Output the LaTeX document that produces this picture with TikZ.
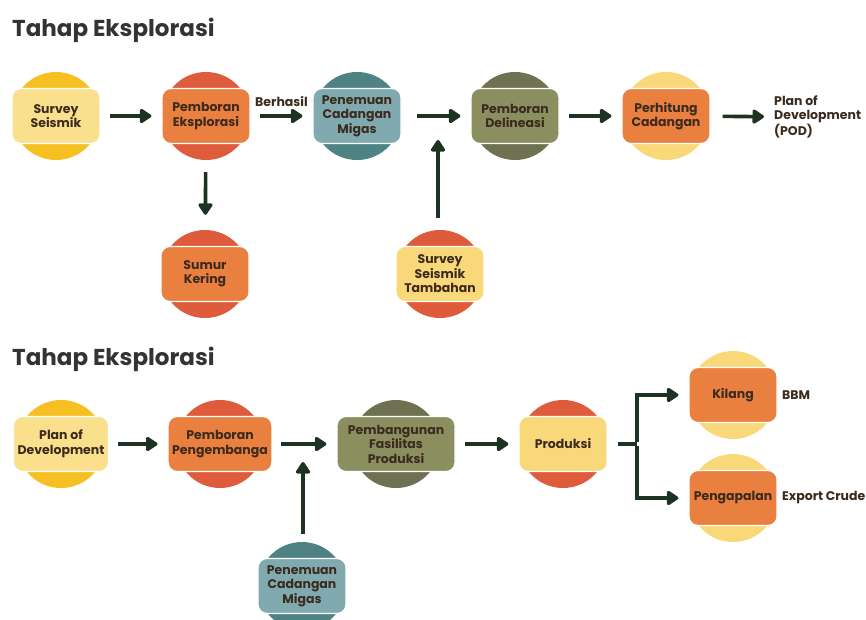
\documentclass[tikz,border=0pt]{standalone}
\usepackage{fontspec}
\setmainfont{Poppins}
\usetikzlibrary{positioning, calc, arrows.meta}

\definecolor{gold}{HTML}{F6BF22}
\definecolor{cream}{HTML}{FAE08C}
\definecolor{sand}{HTML}{F8D878}
\definecolor{brick}{HTML}{DE5B3C}
\definecolor{tangerine}{HTML}{E9803F}
\definecolor{tealdark}{HTML}{4F8383}
\definecolor{teallight}{HTML}{80AAAF}
\definecolor{olivedark}{HTML}{6F7252}
\definecolor{olivelight}{HTML}{8B8F60}
\definecolor{ink}{HTML}{3B2A1E}
\definecolor{pine}{HTML}{1D3322}
\definecolor{titlegrey}{HTML}{333333}

\begin{document}
\begin{tikzpicture}[
    x=1pt, y=-1pt,
    disc/.style={circle, minimum size=88pt, inner sep=0pt},
    stage/.style={draw=white, line width=1.2pt, rounded corners=9pt, align=center, minimum width=88pt, minimum height=55pt, inner xsep=4pt, font=\fontsize{12.5}{14.5}\selectfont\bfseries, text=ink},
    link/.style={-{Triangle[length=13pt,width=16pt,round]}, line width=3.6pt, draw=pine, shorten <=9pt, shorten >=10pt},
    note/.style={font=\fontsize{12.5}{14.5}\selectfont\bfseries, text=ink, align=left, inner sep=0pt},
    heading/.style={font=\fontsize{23}{27}\selectfont\bfseries, text=titlegrey, anchor=base west, inner sep=0pt}
]
    \useasboundingbox (0,0) rectangle (866,619);

    % judul
    \node[heading] (title1) at (12,36) {Tahap Eksplorasi};
    \node[heading] (title2) at (12,365) {Tahap Eksplorasi};

    % tahap eksplorasi: baris atas
    \node[disc, fill=gold] (survey-c) at (56,116) {};
    \node[stage, fill=cream] (survey) at (56,116) {Survey\\Seismik};
    \node[disc, fill=brick] (eksplorasi-c) at (206,116) {};
    \node[stage, fill=tangerine] (eksplorasi) at (206,116) {Pemboran\\Eksplorasi};
    \node[disc, fill=tealdark] (penemuan-c) at (357,116) {};
    \node[stage, fill=teallight] (penemuan) at (357,116) {Penemuan\\Cadangan\\Migas};
    \node[disc, fill=olivedark] (delineasi-c) at (515,116) {};
    \node[stage, fill=olivelight] (delineasi) at (515,116) {Pemboran\\Delineasi};
    \node[disc, fill=sand] (perhitung-c) at (666,116) {};
    \node[stage, fill=tangerine] (perhitung) at (666,116) {Perhitung\\Cadangan};
    \node[note, anchor=west] (pod) at (774,117) {Plan of\\Development\\(POD)};

    \node[disc, fill=brick] (sumur-c) at (205,274) {};
    \node[stage, fill=tangerine] (sumur) at (205,274) {Sumur\\Kering};
    \node[disc, fill=brick] (tambahan-c) at (440,274) {};
    \node[stage, fill=sand] (tambahan) at (440,274) {Survey\\Seismik\\Tambahan};
    \coordinate (masuk1) at (438,140);

    \draw[link] (survey) -- (eksplorasi);
    \draw[link] (eksplorasi) -- node[note, above=8pt, pos=0.5] {Berhasil} (penemuan);
    \draw[link, shorten <=15pt] (penemuan) -- (delineasi);
    \draw[link] (delineasi) -- (perhitung);
    \draw[link, shorten <=12pt] (perhitung) -- (pod);
    \draw[link, shorten <=12pt, shorten >=15pt] (eksplorasi-c) -- (sumur-c);
    \draw[link, shorten <=12pt, shorten >=0pt] (tambahan-c.north -| masuk1) -- (masuk1);

    % tahap kedua
    \node[disc, fill=gold] (plan-c) at (61,444) {};
    \node[stage, fill=cream] (plan) at (61,444) {Plan of\\Development};
    \node[disc, fill=brick] (pengembang-c) at (220,444) {};
    \node[stage, fill=tangerine] (pengembang) at (220,444) {Pemboran\\Pengembanga};
    \node[disc, fill=olivedark] (fasilitas-c) at (396,444) {};
    \node[stage, fill=olivelight, minimum width=118pt] (fasilitas) at (396,444) {Pembangunan\\Fasilitas\\Produksi};
    \node[disc, fill=brick] (produksi-c) at (563,444) {};
    \node[stage, fill=sand] (produksi) at (563,444) {Produksi};
    \node[disc, fill=sand] (kilang-c) at (733,395) {};
    \node[stage, fill=tangerine] (kilang) at (733,395) {Kilang};
    \node[disc, fill=sand] (kapal-c) at (733,498) {};
    \node[stage, fill=tangerine] (kapal) at (733,498) {Pengapalan};
    \node[note, anchor=west] (bbm) at (782,395) {BBM};
    \node[note, anchor=west] (ekspor) at (782,498) {Export Crude};

    \node[disc, fill=tealdark] (migas-c) at (302,586) {};
    \node[stage, fill=teallight] (migas) at (302,586) {Penemuan\\Cadangan\\Migas};
    \coordinate (masuk2) at (303,462);
    \coordinate (cabang) at (637,444);

    \draw[link] (plan) -- (pengembang);
    \draw[link] (pengembang) -- (fasilitas);
    \draw[link] (fasilitas) -- (produksi);
    \draw[link, shorten <=8pt, shorten >=0pt] (migas-c.north -| masuk2) -- (masuk2);
    \draw[line width=3.6pt, draw=pine, shorten <=10pt] (produksi) -- (cabang);
    \draw[link, shorten <=0pt] ([yshift=1.8pt]cabang) |- (kilang);
    \draw[link, shorten <=0pt] ([yshift=-1.8pt]cabang) |- (kapal);
\end{tikzpicture}
\end{document}
